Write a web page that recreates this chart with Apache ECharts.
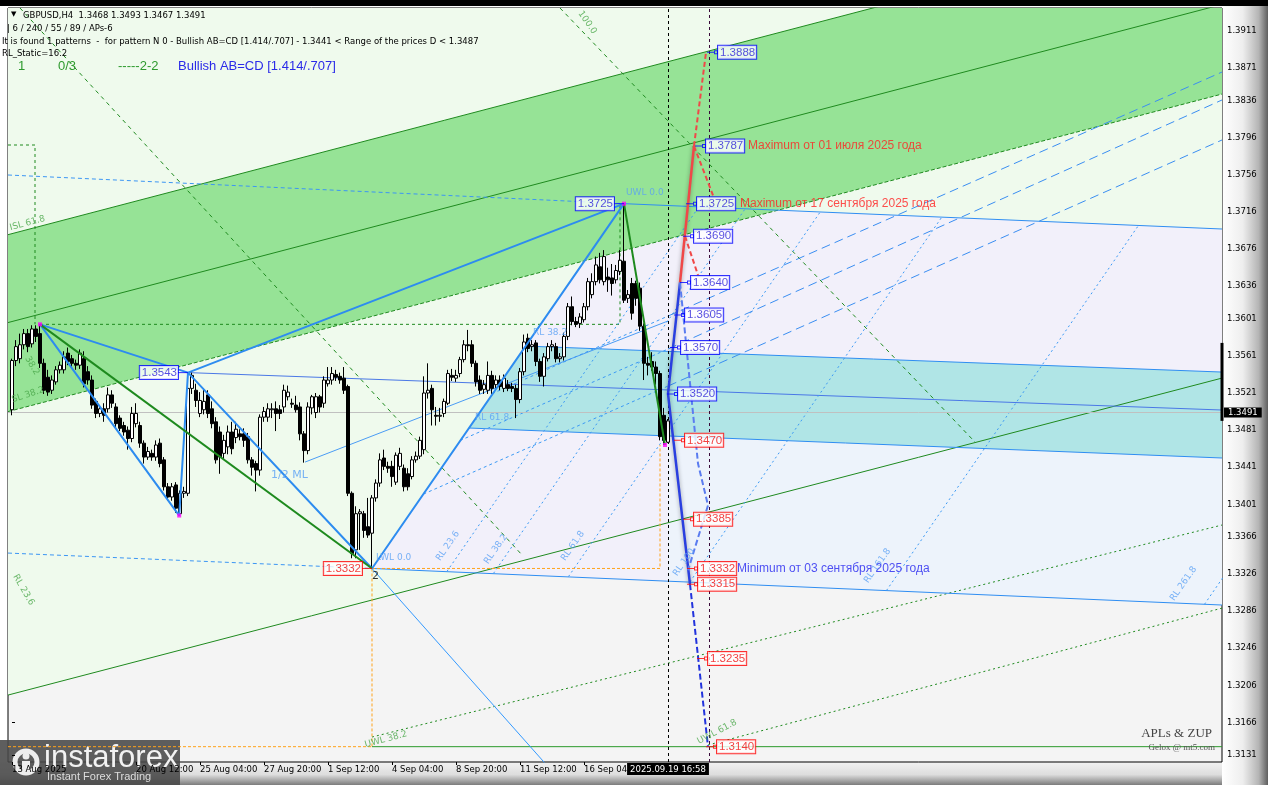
<!DOCTYPE html>
<html>
<head>
<meta charset="utf-8">
<script src="https://cdn.jsdelivr.net/npm/echarts@6.0.0/dist/echarts.min.js"></script>
<style>
html,body{margin:0;padding:0;background:#fff;}
#chart{width:1268px;height:785px;
background:
 linear-gradient(#000,#000) left top/100% 6px no-repeat,
 linear-gradient(to right,#ffffff 0%,#eeeeee 45%,#b4b4b4 80%,#5e5e5e 100%) right top/46px 100% no-repeat,
 linear-gradient(to bottom,#f2f2f2 0%,#dddddd 55%,#7c7c7c 100%) left bottom/100% 23px no-repeat,
 #ffffff;}
</style>
</head>
<body>
<div id="chart"></div>
<script>
// GBPUSD H4 candles, one row per bar: [open, close, low, high]
const candles = [
[1.3503,1.3556,1.3497,1.3558],[1.3556,1.3571,1.3550,1.3578],[1.3558,1.3573,1.3553,1.3585],[1.3573,1.3585,1.3568,1.3590],
[1.3585,1.3571,1.3565,1.3590],[1.3574,1.3590,1.3570,1.3594],[1.3590,1.3582,1.3576,1.3594],[1.3585,1.3553,1.3548,1.3595],
[1.3553,1.3524,1.3520,1.3558],[1.3538,1.3522,1.3518,1.3546],[1.3524,1.3535,1.3520,1.3540],[1.3533,1.3546,1.3530,1.3550],
[1.3546,1.3551,1.3542,1.3555],[1.3546,1.3560,1.3542,1.3566],[1.3564,1.3555,1.3551,1.3570],[1.3558,1.3553,1.3549,1.3562],
[1.3553,1.3551,1.3546,1.3557],[1.3551,1.3564,1.3547,1.3568],[1.3558,1.3531,1.3527,1.3566],[1.3544,1.3535,1.3530,1.3550],
[1.3535,1.3508,1.3504,1.3540],[1.3512,1.3499,1.3494,1.3515],[1.3499,1.3504,1.3495,1.3508],[1.3504,1.3497,1.3490,1.3510],
[1.3504,1.3519,1.3500,1.3527],[1.3519,1.3510,1.3505,1.3524],[1.3506,1.3488,1.3484,1.3510],[1.3494,1.3483,1.3480,1.3497],
[1.3486,1.3479,1.3475,1.3490],[1.3481,1.3472,1.3460,1.3485],[1.3472,1.3499,1.3468,1.3506],[1.3488,1.3499,1.3484,1.3510],
[1.3486,1.3467,1.3462,1.3490],[1.3467,1.3452,1.3445,1.3470],[1.3452,1.3458,1.3449,1.3463],[1.3456,1.3452,1.3448,1.3460],
[1.3452,1.3465,1.3448,1.3470],[1.3467,1.3445,1.3441,1.3472],[1.3449,1.3420,1.3416,1.3452],[1.3420,1.3409,1.3405,1.3424],
[1.3409,1.3420,1.3405,1.3424],[1.3422,1.3397,1.3392,1.3425],[1.3391,1.3413,1.3389,1.3416],[1.3413,1.3415,1.3408,1.3420],
[1.3413,1.3526,1.3410,1.3529],[1.3526,1.3540,1.3520,1.3543],[1.3524,1.3513,1.3506,1.3531],[1.3499,1.3513,1.3495,1.3522],
[1.3503,1.3512,1.3498,1.3526],[1.3519,1.3499,1.3494,1.3524],[1.3504,1.3488,1.3483,1.3512],[1.3490,1.3449,1.3445,1.3495],
[1.3479,1.3452,1.3434,1.3485],[1.3456,1.3470,1.3450,1.3476],[1.3463,1.3479,1.3455,1.3486],[1.3479,1.3461,1.3455,1.3490],
[1.3473,1.3482,1.3467,1.3490],[1.3477,1.3474,1.3470,1.3482],[1.3477,1.3470,1.3463,1.3483],[1.3474,1.3449,1.3445,1.3478],
[1.3449,1.3441,1.3432,1.3452],[1.3445,1.3438,1.3415,1.3448],[1.3438,1.3495,1.3432,1.3498],[1.3495,1.3501,1.3490,1.3506],
[1.3495,1.3504,1.3490,1.3510],[1.3503,1.3504,1.3494,1.3510],[1.3504,1.3499,1.3480,1.3512],[1.3503,1.3499,1.3493,1.3508],
[1.3506,1.3524,1.3500,1.3530],[1.3517,1.3522,1.3513,1.3529],[1.3510,1.3509,1.3505,1.3515],[1.3508,1.3503,1.3500,1.3518],
[1.3506,1.3477,1.3470,1.3511],[1.3477,1.3459,1.3446,1.3480],[1.3459,1.3506,1.3455,1.3511],[1.3505,1.3517,1.3498,1.3519],
[1.3500,1.3517,1.3494,1.3521],[1.3517,1.3506,1.3500,1.3519],[1.3510,1.3535,1.3505,1.3539],[1.3531,1.3535,1.3528,1.3549],
[1.3535,1.3542,1.3530,1.3549],[1.3541,1.3538,1.3534,1.3546],[1.3539,1.3535,1.3531,1.3543],[1.3537,1.3524,1.3520,1.3549],
[1.3528,1.3413,1.3410,1.3530],[1.3413,1.3348,1.3343,1.3415],[1.3352,1.3391,1.3343,1.3399],[1.3391,1.3393,1.3352,1.3396],
[1.3391,1.3373,1.3365,1.3394],[1.3377,1.3368,1.3365,1.3408],[1.3370,1.3408,1.3332,1.3411],[1.3408,1.3424,1.3404,1.3428],
[1.3424,1.3449,1.3420,1.3456],[1.3451,1.3442,1.3438,1.3460],[1.3442,1.3440,1.3435,1.3447],[1.3442,1.3431,1.3420,1.3448],
[1.3425,1.3454,1.3422,1.3457],[1.3442,1.3456,1.3438,1.3462],[1.3440,1.3420,1.3415,1.3444],[1.3434,1.3420,1.3416,1.3440],
[1.3431,1.3449,1.3428,1.3453],[1.3449,1.3453,1.3446,1.3458],[1.3453,1.3470,1.3450,1.3474],[1.3460,1.3521,1.3455,1.3539],
[1.3521,1.3524,1.3515,1.3553],[1.3526,1.3503,1.3486,1.3530],[1.3497,1.3496,1.3486,1.3506],[1.3496,1.3497,1.3490,1.3505],
[1.3499,1.3512,1.3495,1.3515],[1.3510,1.3542,1.3508,1.3546],[1.3540,1.3538,1.3534,1.3547],[1.3537,1.3540,1.3533,1.3546],
[1.3542,1.3557,1.3538,1.3560],[1.3557,1.3573,1.3554,1.3578],[1.3573,1.3572,1.3566,1.3589],[1.3573,1.3553,1.3549,1.3578],
[1.3553,1.3533,1.3528,1.3556],[1.3535,1.3524,1.3520,1.3540],[1.3525,1.3530,1.3520,1.3535],[1.3524,1.3540,1.3520,1.3555],
[1.3540,1.3526,1.3520,1.3545],[1.3530,1.3535,1.3526,1.3540],[1.3535,1.3528,1.3524,1.3540],[1.3526,1.3537,1.3522,1.3541],
[1.3530,1.3526,1.3523,1.3535],[1.3528,1.3526,1.3522,1.3532],[1.3526,1.3514,1.3494,1.3530],[1.3514,1.3544,1.3510,1.3548],
[1.3544,1.3576,1.3540,1.3584],[1.3580,1.3569,1.3565,1.3585],[1.3571,1.3573,1.3566,1.3578],[1.3575,1.3555,1.3550,1.3578],
[1.3555,1.3539,1.3533,1.3558],[1.3539,1.3560,1.3528,1.3564],[1.3558,1.3571,1.3555,1.3575],[1.3571,1.3573,1.3566,1.3578],
[1.3571,1.3558,1.3554,1.3575],[1.3558,1.3560,1.3554,1.3564],[1.3560,1.3582,1.3556,1.3586],[1.3582,1.3614,1.3578,1.3618],
[1.3614,1.3598,1.3594,1.3625],[1.3598,1.3595,1.3592,1.3603],[1.3596,1.3603,1.3591,1.3607],[1.3600,1.3614,1.3597,1.3618],
[1.3614,1.3641,1.3610,1.3645],[1.3627,1.3641,1.3623,1.3650],[1.3641,1.3659,1.3637,1.3668],[1.3657,1.3643,1.3639,1.3672],
[1.3641,1.3668,1.3637,1.3675],[1.3646,1.3643,1.3630,1.3656],[1.3645,1.3639,1.3626,1.3660],[1.3643,1.3653,1.3639,1.3659],
[1.3652,1.3664,1.3648,1.3675],[1.3663,1.3621,1.3618,1.3725],[1.3623,1.3627,1.3618,1.3632],[1.3639,1.3607,1.3600,1.3645],
[1.3639,1.3623,1.3615,1.3642],[1.3634,1.3593,1.3588,1.3640],[1.3593,1.3553,1.3535,1.3596],[1.3553,1.3551,1.3540,1.3560],
[1.3555,1.3549,1.3545,1.3565],[1.3549,1.3542,1.3530,1.3555],[1.3542,1.3474,1.3470,1.3545],[1.3497,1.3470,1.3465,1.3505],
[1.3468,1.3491,1.3467,1.3493]
];

// Time axis: bar numbers that carry a date label, and the labels
const timeTickBars = [0, 31, 47, 63, 79, 95, 111, 127, 143];
const timeTickText = ['13 Aug 2025','20 Aug 12:00','25 Aug 04:00','27 Aug 20:00','1 Sep 12:00','4 Sep 04:00','8 Sep 20:00','11 Sep 12:00','16 Sep 04:00'];
const currentTimeText = '2025.09.19 16:58';
const currentBar = 164;
const projectionBar = 174.25;

// Price scale labels
const priceTicks = [1.3911,1.3871,1.3836,1.3796,1.3756,1.3716,1.3676,1.3636,1.3601,1.3561,1.3521,1.3481,1.3441,1.3401,1.3366,1.3326,1.3286,1.3246,1.3206,1.3166,1.3131];

// ZUP pattern points [bar, price]
const patternPoints = [[7,1.3595],[41.8,1.3389],[153,1.3725],[163.25,1.3465]];
const blueLegA = [[7,1.3595],[41.8,1.3389],[44,1.3543],[90,1.3332],[153,1.3725]];
const blueLegB = [[7,1.3595],[44,1.3543],[153,1.3725]];
const greenLegA = [[7,1.3595],[90,1.3332]];
const greenLegB = [[153,1.3725],[163.25,1.3465]];
const blueTail = [[90,1.3332],[137,1.3104]];

// Andrews' pitchfork lines
const forkUpperDashed = [[-1,1.37559],[153,1.3725]];
const forkUpper = [[153,1.3725],[302.5,1.36977]];
const forkMedian = [[44,1.3543],[302.5,1.35027]];
const forkLowerDashed = [[-1,1.33486],[90,1.3332]];
const forkLower = [[90,1.3332],[302.5,1.32926]];
const zoneTop = [[128.25,1.35716],[302.5,1.35436]];
const zoneBottom = [[114.25,1.34833],[302.5,1.34510]];
const halfML = [[73.25,1.34466],[164,1.35986]];
// reaction lines RL 23.6 ... RL 261.8
const reactionLines = [
 [[108.75,1.33289],[171.75,1.37218]],
 [[120.375,1.33267],[183.375,1.37200]],
 [[139.125,1.33233],[202.125,1.37165]],
 [[169.5,1.33176],[232.5,1.37108]],
 [[218.625,1.33083],[281.625,1.37016]],
 [[298.125,1.32934],[361,1.36869]]
];
// fan rays: short-dashed inside the fork, long-dashed after the last bar
const fanRaysInner = [
 [[120,1.35203],[164,1.36039]],
 [[112,1.34698],[164,1.35684]],
 [[102.85,1.34121],[164,1.35285]]
];
const projectionRays = [
 [[164,1.36039],[302.5,1.38668]],
 [[164,1.35684],[302.5,1.38367]],
 [[164,1.35285],[302.5,1.37936]]
];

// Green channel
const channelTop = [[-1,1.36916],[302.5,1.40344]];
const channelMid = [[-1,1.35969],[302.5,1.39396]];
const channelBottom = [[-1,1.35010],[302.5,1.38431]];
const channelLow = [[-1,1.31956],[302.5,1.35371]];
const uwl382 = [[90,1.31504],[302.5,1.33788]];
const uwl618 = [[174,1.31418],[302.5,1.32893]];
const greenDiagA = [[137,1.39358],[240.75,1.34682]];
const greenDiagB = [[2,1.39358],[127.75,1.33454]];
const greenBoxA = [[7,1.3595],[152,1.3595],[152,1.3725]];
const greenBoxB = [[-1,1.37882],[5.75,1.37882],[5.75,1.3595]];

// Orange guides and the D target line
const orangeA = [[-1,1.3140],[90,1.3140]];
const orangeB = [[90,1.3332],[90,1.3140]];
const orangeC = [[90,1.3332],[162,1.3332],[162,1.3465]];
const targetLine = [[90,1.3140],[302.5,1.3140]];

// Projection paths to the right of the last bar
const redSolid = [[167,1.3640],[170.5,1.3787]];
const redDashA = [[170.5,1.3787],[173.5,1.3888]];
const redDashB = [[170.5,1.3787],[175.25,1.3734]];
const redDashC = [[168.25,1.3690],[171.5,1.3648]];
const blueSolid = [[167,1.3640],[164,1.3520],[169.5,1.3315]];
const blueDashDark = [[169.5,1.3315],[174,1.3140]];
const blueDashLight = [[167,1.3640],[171.5,1.3445],[174,1.3400],[169,1.3330]];

// Price tags
const blueTagsRight = [[173.75,1.3888],[170.75,1.3787],[168.5,1.3725],[167.75,1.3690],[167,1.3640],[165.5,1.3605],[164.5,1.3570],[163.75,1.3520]];
const redTagsRight = [[165.5,1.3470],[167.75,1.3385],[168.75,1.3332],[168.75,1.3315],[171.25,1.3235],[173.5,1.3140]];
const blueTagsLeft = [[153,1.3725],[44,1.3543]];
const redTagsLeft = [[90,1.3332]];

// Notes next to the tags
const notes = [
 {at:[184,1.3787], text:'Maximum от 01 июля 2025 года', color:'#ff2222'},
 {at:[182,1.3725], text:'Maximum от 17 сентября 2025 года', color:'#ff2222'},
 {at:[181.25,1.3332], text:'Minimum от 03 сентября 2025 года', color:'#2626f0'}
];

// Level captions on the lines
const captions = [
 {at:[153.5,1.37365], text:'UWL 0.0', color:'#5aa0f5', rot:0, size:9},
 {at:[91,1.33432], text:'LWL 0.0', color:'#5aa0f5', rot:0, size:9},
 {at:[64.75,1.34327], text:'1/2 ML', color:'#5aa0f5', rot:0, size:11},
 {at:[130.25,1.35856], text:'RL 38.2', color:'#5aa0f5', rot:0, size:9},
 {at:[115.75,1.34941], text:'RL 61.8', color:'#5aa0f5', rot:0, size:9},
 {at:[106.5,1.33411], text:'RL 23.6', color:'#5aa0f5', rot:55, size:9},
 {at:[118.5,1.33378], text:'RL 38.2', color:'#5aa0f5', rot:55, size:9},
 {at:[137.75,1.33411], text:'RL 61.8', color:'#5aa0f5', rot:55, size:9},
 {at:[165.75,1.33249], text:'RL 100', color:'#5aa0f5', rot:55, size:9},
 {at:[213.5,1.33173], text:'RL 161.8', color:'#5aa0f5', rot:55, size:9},
 {at:[290,1.32980], text:'RL 261.8', color:'#5aa0f5', rot:55, size:9},
 {at:[88.25,1.31418], text:'UWL 38.2', color:'#4aa84a', rot:15, size:9},
 {at:[171.5,1.31450], text:'UWL 61.8', color:'#4aa84a', rot:28, size:9},
 {at:[-0.5,1.36988], text:'ISL 61.8', color:'#4aa84a', rot:15, size:9},
 {at:[0,1.35135], text:'SL 38.2', color:'#4aa84a', rot:18, size:9},
 {at:[3.75,1.35598], text:'38.2', color:'#4aa84a', rot:-60, size:9},
 {at:[0.75,1.33249], text:'RL 23.6', color:'#4aa84a', rot:-60, size:9},
 {at:[142,1.39315], text:'100.0', color:'#4aa84a', rot:-55, size:9},
 {at:[90,1.33238], text:'2', color:'#000000', rot:0, size:11}
];

// Shaded zones
const zonePaleGreen = [[-1,1.39358],[302.5,1.39358],[302.5,1.35371],[-1,1.31956]];
const zoneFork = [[90,1.3332],[153,1.3725],[302.5,1.36977],[302.5,1.32926]];
const zoneForkRight = [[164,1.34747],[302.5,1.34510],[302.5,1.32926],[164,1.33185]];
const zoneTeal = [[114.25,1.34833],[128.25,1.35716],[302.5,1.35436],[302.5,1.34510]];
const zoneChannel = [[-1,1.36916],[215.25,1.39358],[302.5,1.39358],[302.5,1.38431],[-1,1.35010]];

const PRICE_MIN = 1.31235, PRICE_MAX = 1.39358, BAR_MIN = -1, BAR_MAX = 302.5;
const lastClose = candles[candles.length - 1][1];
const FONT = 'DejaVu Sans';
const TAG_FONT = 'Liberation Sans';

function zone(name, pts, fill, z) {
  return {type:'custom', name, coordinateSystem:'cartesian2d', silent:true, z, animation:false, data:[[pts[0][0], pts[0][1]]],
    renderItem: (params, api) => ({type:'polygon', shape:{points: pts.map(p => api.coord(p))}, style:{fill}})};
}
function line(name, pts, color, width, type, z, extra) {
  return Object.assign({type:'line', name, data:pts, symbol:'none', showSymbol:false, silent:true, animation:false,
    lineStyle:{color, width, type}, z}, extra || {});
}
const TAG_RIGHT = 'path://M0,1.5h7v1h-7z M7,0h4v4h-4z M8,1v2h2v-2z';
const TAG_LEFT = 'path://M0,0h10v1h-10z';
function tags(name, pts, side, color, textColor) {
  const right = side === 'right';
  return {type:'scatter', name, data:pts, silent:true, animation:false, z:20, clip:false,
    symbol: right ? TAG_RIGHT : TAG_LEFT, symbolSize: right ? [11,4] : [10,1], symbolOffset: right ? [5.5,0] : [-5,0],
    itemStyle:{color},
    label:{show:true, position:side, distance:0, formatter:p => p.value[1].toFixed(4), color:textColor,
      fontFamily:TAG_FONT, fontSize:11.5, lineHeight:12, backgroundColor:'#ffffff', borderColor:color, borderWidth:1, padding:[1,1,0,2]}};
}

const series = [
  zone('pale', zonePaleGreen, '#effaed', 1),
  zone('fork', zoneFork, '#f2f0fa', 1),
  zone('forkRight', zoneForkRight, '#edf3fb', 1),
  zone('teal', zoneTeal, '#b0e5e6', 1),
  zone('channel', zoneChannel, '#96e396', 1),

  line('channelTop', channelTop, '#1f8a1f', 1, 'solid', 3),
  line('channelMid', channelMid, '#1f8a1f', 1, 'solid', 3),
  line('channelBottom', channelBottom, '#1f8a1f', 1, [4,2], 3),
  line('channelLow', channelLow, '#1f8a1f', 1, 'solid', 3),
  line('uwl382', uwl382, '#1f8a1f', 1, [2,3], 3),
  line('uwl618', uwl618, '#1f8a1f', 1, [2,3], 3),
  line('greenDiagA', greenDiagA, '#1f8a1f', 1, [4,4], 3),
  line('greenDiagB', greenDiagB, '#1f8a1f', 1, [4,4], 3),
  line('greenBoxA', greenBoxA, '#1f8a1f', 1, [3,3], 3),
  line('greenBoxB', greenBoxB, '#1f8a1f', 1, [3,3], 3),

  line('forkUpperDashed', forkUpperDashed, '#3c96f4', 1, [4,3], 3),
  line('forkUpper', forkUpper, '#2f8ef2', 1, 'solid', 3),
  line('forkMedian', forkMedian, '#4a78e6', 1, 'solid', 3),
  line('forkLowerDashed', forkLowerDashed, '#3c96f4', 1, [4,3], 3),
  line('forkLower', forkLower, '#2f8ef2', 1, 'solid', 3),
  line('zoneTop', zoneTop, '#2f8ef2', 1, 'solid', 3),
  line('zoneBottom', zoneBottom, '#2f8ef2', 1, 'solid', 3),
  line('halfML', halfML, '#4a9cf5', 1, 'solid', 3),
  ...reactionLines.map((r, k) => line('rl' + k, r, '#3c9af5', 1, [2,3], 3)),
  ...fanRaysInner.map((r, k) => line('fan' + k, r, '#3c9af5', 1, [3,3], 3)),
  ...projectionRays.map((r, k) => line('ray' + k, r, '#3a8ef2', 1, [9,5], 3)),

  line('orangeA', orangeA, '#ffa31a', 1, [3,2], 3),
  line('orangeB', orangeB, '#ffa31a', 1, [3,2], 3),
  line('orangeC', orangeC, '#ffa31a', 1, [3,2], 3),
  line('target', targetLine, '#2c9a2c', 1, 'solid', 3),

  // current price level and its tag on the scale
  {type:'line', name:'bid', data:[], silent:true, animation:false, z:4,
    markLine:{symbol:['none','none'], silent:true, animation:false, lineStyle:{color:'#c0c0c0', width:1, type:'solid'},
      data:[{yAxis:lastClose, label:{show:true, position:'end', distance:2, formatter:lastClose.toFixed(4), color:'#fff',
        backgroundColor:'#000', padding:[1,4,0,4], fontFamily:FONT, fontSize:8.5}}]}},

  {type:'candlestick', name:'GBPUSD,H4', data:candles.map((c, i) => [i, c[0], c[1], c[2], c[3]]),
    encode:{x:0, y:[1,2,3,4]}, barWidth:3, z:5, silent:true, animation:false,
    itemStyle:{color:'#ffffff', color0:'#000000', borderColor:'#000000', borderColor0:'#000000', borderWidth:1}},

  line('blueLegA', blueLegA, '#2d8cf0', 2, 'solid', 6),
  line('blueLegB', blueLegB, '#2d8cf0', 2, 'solid', 6),
  line('blueTail', blueTail, '#3399ff', 1, 'solid', 6),
  line('greenLegA', greenLegA, '#1e8a1e', 2, 'solid', 6),
  line('greenLegB', greenLegB, '#1e8a1e', 2, 'solid', 6),

  line('redSolid', redSolid, '#f04848', 2, 'solid', 7, {lineStyle:{color:'#f04848', width:2.5, shadowColor:'rgba(0,0,0,0.35)', shadowBlur:4}}),
  line('redDashA', redDashA, '#f04848', 2, [5,3], 7),
  line('redDashB', redDashB, '#f04848', 2, [5,3], 7),
  line('redDashC', redDashC, '#f04848', 2, [5,3], 7),
  line('blueSolid', blueSolid, '#2a3fe0', 2, 'solid', 7, {lineStyle:{color:'#2a3fe0', width:2.5, shadowColor:'rgba(0,0,0,0.35)', shadowBlur:4}}),
  line('blueDashDark', blueDashDark, '#2233dd', 2, [6,3], 7),
  line('blueDashLight', blueDashLight, '#5a7cf0', 2, [6,3], 7),

  // vertical markers: current bar and projection bar
  {type:'line', name:'vlines', data:[], silent:true, animation:false, z:8,
    markLine:{symbol:['none','none'], silent:true, animation:false, lineStyle:{color:'#000', width:1, type:[3,3]},
      data:[
        {xAxis:currentBar, label:{show:true, position:'start', distance:1, formatter:currentTimeText, color:'#fff', backgroundColor:'#000',
          padding:[2,3,1,3], fontFamily:FONT, fontSize:8.5}},
        {xAxis:projectionBar, label:{show:false}, lineStyle:{color:'#3a0a3a'}}
      ]}},

  {type:'scatter', name:'points', data:patternPoints, symbol:'rect', symbolSize:4, itemStyle:{color:'#ff00ff'}, z:9, silent:true, animation:false},

  tags('tagsBlueR', blueTagsRight, 'right', '#0000ff', '#2a1fd8'),
  tags('tagsRedR', redTagsRight, 'right', '#ff0000', '#f01010'),
  tags('tagsBlueL', blueTagsLeft, 'left', '#0000ff', '#2a1fd8'),
  tags('tagsRedL', redTagsLeft, 'left', '#ff0000', '#f01010'),

  {type:'scatter', name:'notes', silent:true, animation:false, z:20, clip:false, symbolSize:0,
    data: notes.map(n => ({value:n.at, label:{show:true, position:'right', distance:0, formatter:n.text, color:n.color,
      fontFamily:TAG_FONT, fontSize:12}}))},

  {type:'scatter', name:'captions', silent:true, animation:false, z:12, clip:false, symbolSize:0,
    data: captions.map(c => ({value:c.at, label:{show:true, position:[0,0], align:'left', verticalAlign:'middle',
      formatter:c.text, color:c.color, fontFamily:FONT, fontSize:c.size, rotate:c.rot}}))},

  // tick bar on the price scale
  {type:'line', name:'scaleBar', data:[[BAR_MAX,1.3575],[BAR_MAX,1.3491]], symbol:'none', clip:false, silent:true, animation:false,
    lineStyle:{color:'#000', width:3}, z:9}
];

const chart = echarts.init(document.getElementById('chart'));
chart.setOption({
  animation:false,
  backgroundColor:'transparent',
  grid:{left:8, right:46, top:8, bottom:23, show:true, backgroundColor:'#f4f4f4', borderColor:'#000', borderWidth:1},
  xAxis:{type:'value', min:BAR_MIN, max:BAR_MAX, axisLine:{show:false}, splitLine:{show:false},
    axisTick:{show:true, customValues:timeTickBars, length:3, lineStyle:{color:'#000'}},
    axisLabel:{show:true, customValues:timeTickBars, formatter:v => timeTickText[timeTickBars.indexOf(v)] || '',
      align:'left', margin:3, color:'#000', fontFamily:FONT, fontSize:8.5}},
  yAxis:{type:'value', position:'right', min:PRICE_MIN, max:PRICE_MAX, axisLine:{show:false}, splitLine:{show:false},
    axisTick:{show:true, customValues:priceTicks, length:3, lineStyle:{color:'#000'}},
    axisLabel:{show:true, customValues:priceTicks, formatter:v => v.toFixed(4), margin:5, color:'#000', fontFamily:FONT, fontSize:8.5}},
  series,
  graphic:[
    {type:'text', left:11, top:11, z:50, style:{text:'▼', fontSize:7, fill:'#000', fontFamily:FONT}},
    {type:'text', left:23, top:11, z:50, style:{text:'GBPUSD,H4  1.3468 1.3493 1.3467 1.3491', fontSize:8.5, fill:'#000', fontFamily:FONT}},
    {type:'text', left:7, top:24, z:50, style:{text:'| 6 / 240 / 55 / 89 / APs-6', fontSize:8.5, fill:'#000', fontFamily:FONT}},
    {type:'text', left:2, top:37, z:50, style:{text:'It is found 1 patterns  -  for pattern N 0 - Bullish AB=CD [1.414/.707] - 1.3441 < Range of the prices D < 1.3487', fontSize:8.5, fill:'#000', fontFamily:FONT}},
    {type:'text', left:2, top:49, z:50, style:{text:'RL_Static=16.2', fontSize:8.5, fill:'#000', fontFamily:FONT}},
    {type:'text', left:18, top:60, z:50, style:{text:'1', fontSize:13, fill:'#2e9a2e', fontFamily:TAG_FONT}},
    {type:'text', left:58, top:60, z:50, style:{text:'0/3', fontSize:13, fill:'#2e9a2e', fontFamily:TAG_FONT}},
    {type:'text', left:118, top:60, z:50, style:{text:'-----2-2', fontSize:13, fill:'#2e9a2e', fontFamily:TAG_FONT}},
    {type:'text', left:178, top:60, z:50, style:{text:'Bullish AB=CD [1.414/.707]', fontSize:13, fill:'#2a2ae8', fontFamily:TAG_FONT}},
    {type:'text', right:56, top:727, z:50, style:{text:'APLs & ZUP', fontSize:13, fill:'#444', fontFamily:'Liberation Serif'}},
    {type:'text', right:53, top:743, z:50, style:{text:'Gelox @ mt5.com', fontSize:9, fill:'#555', fontFamily:'Liberation Serif'}},
    {type:'group', left:0, top:740, z:60, children:[
      {type:'rect', shape:{x:0, y:0, width:180, height:45}, style:{fill:'rgba(72,72,72,0.88)'}},
      {type:'circle', shape:{cx:26, cy:22, r:11}, style:{fill:'none', stroke:'#eee', lineWidth:5}},
      {type:'circle', shape:{cx:26, cy:16, r:3.5}, style:{fill:'#eee'}},
      {type:'rect', shape:{x:22, y:21, width:8, height:12}, style:{fill:'#eee'}},
      {type:'text', x:44, y:3, style:{text:'instaforex', fontSize:31, fill:'#f2f2f2', fontFamily:'Liberation Sans'}},
      {type:'text', x:47, y:31, style:{text:'Instant Forex Trading', fontSize:11, fill:'#dddddd', fontFamily:'Liberation Sans'}}
    ]}
  ]
});
</script>
</body>
</html>
